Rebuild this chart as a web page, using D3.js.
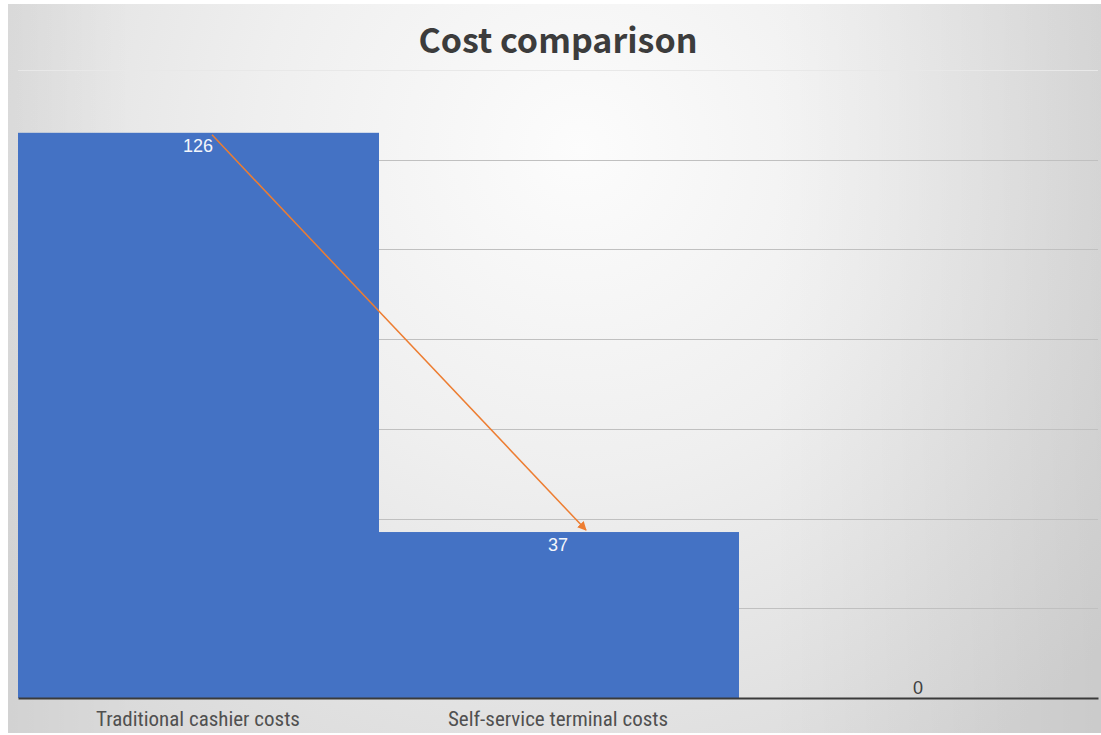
<!DOCTYPE html>
<html>
<head>
<meta charset="utf-8">
<script src="https://cdn.jsdelivr.net/npm/d3@7/dist/d3.min.js"></script>
<style>
  html, body { margin: 0; padding: 0; background: #fff; }
  svg { display: block; }
</style>
</head>
<body>
<svg id="chart" width="1101" height="735"></svg>
<script>
// Chart data
const categories = ["Traditional cashier costs", "Self-service terminal costs", ""];
const costs = [126, 37, 0];
const yTicks = [0, 20, 40, 60, 80, 100, 120, 140];
const chartTitle = "Cost comparison";

const W = 1101, H = 735;
const margin = { left: 18, right: 3, top: 70, bottom: 37 };
const svg = d3.select("#chart");
const defs = svg.append("defs");

// Soft grey backdrop, brightest near the top centre
const bg = defs.append("radialGradient")
  .attr("id", "bgGrad")
  .attr("gradientUnits", "userSpaceOnUse")
  .attr("cx", 580).attr("cy", 150).attr("r", 720);
bg.append("stop").attr("offset", "0%").attr("stop-color", "#fcfcfc");
bg.append("stop").attr("offset", "45%").attr("stop-color", "#efefef");
bg.append("stop").attr("offset", "100%").attr("stop-color", "#dadada");

const shade = defs.append("linearGradient")
  .attr("id", "edgeShade")
  .attr("gradientUnits", "userSpaceOnUse")
  .attr("x1", 0).attr("x2", W).attr("y1", 0).attr("y2", 0);
shade.append("stop").attr("offset", "0%").attr("stop-color", "#000").attr("stop-opacity", 0.04);
shade.append("stop").attr("offset", "12%").attr("stop-color", "#000").attr("stop-opacity", 0);
shade.append("stop").attr("offset", "70%").attr("stop-color", "#000").attr("stop-opacity", 0);
shade.append("stop").attr("offset", "100%").attr("stop-color", "#000").attr("stop-opacity", 0.07);

svg.append("rect").attr("width", W).attr("height", H).attr("fill", "#ffffff");
svg.append("rect")
  .attr("x", 8).attr("y", 4).attr("width", W - 8).attr("height", H - 6)
  .attr("fill", "url(#bgGrad)");
svg.append("rect")
  .attr("x", 8).attr("y", 4).attr("width", W - 8).attr("height", H - 6)
  .attr("fill", "url(#edgeShade)");

const x = d3.scaleBand()
  .domain(d3.range(categories.length))
  .range([margin.left, W - margin.right])
  .padding(0);

const y = d3.scaleLinear()
  .domain([0, 140])
  .range([H - margin.bottom, margin.top]);

// Horizontal gridlines
svg.append("g")
  .selectAll("line")
  .data(yTicks.filter(t => t > 0))
  .join("line")
  .attr("x1", margin.left)
  .attr("x2", W - margin.right)
  .attr("y1", d => Math.round(y(d)) + 0.5)
  .attr("y2", d => Math.round(y(d)) + 0.5)
  .attr("stroke", d => d === 140 ? "#e8e8e8" : "#c0c0c0")
  .attr("stroke-width", 1);

// Bars
svg.append("g")
  .selectAll("rect")
  .data(costs)
  .join("rect")
  .attr("x", (d, i) => x(i))
  .attr("width", x.bandwidth() + 1)
  .attr("y", d => y(d))
  .attr("height", d => y(0) - y(d))
  .attr("fill", "#4472c4");

// Baseline axis with category names
const xAxis = d3.axisBottom(x).tickSize(0).tickFormat(i => categories[i]);
const axisG = svg.append("g")
  .attr("transform", `translate(0,${y(0)})`)
  .call(xAxis);
axisG.select(".domain").attr("stroke", "#3a3a3a").attr("stroke-width", 2);
axisG.selectAll("text")
  .attr("dy", "0.2em")
  .attr("y", 24)
  .attr("fill", "#505050")
  .style("font-family", "'Liberation Sans Narrow', 'Roboto Condensed', 'Noto Sans', sans-serif")
  .style("font-size", "21px");

// Value labels
svg.append("g")
  .selectAll("text")
  .data(costs)
  .join("text")
  .attr("x", (d, i) => x(i) + x.bandwidth() / 2)
  .attr("y", d => d > 0 ? y(d) + 19 : y(d) - 4)
  .attr("text-anchor", "middle")
  .attr("fill", d => d > 0 ? "#f4f6fb" : "#404040")
  .style("font-family", "'Liberation Sans', 'Noto Sans', sans-serif")
  .style("font-size", "18px")
  .text(d => d);

// Arrow from the first bar's value down to the second bar's value
const marker = defs.append("marker")
  .attr("id", "arrowHead")
  .attr("viewBox", "0 0 10 10")
  .attr("refX", 9).attr("refY", 5)
  .attr("markerWidth", 6).attr("markerHeight", 6)
  .attr("markerUnits", "strokeWidth")
  .attr("orient", "auto");
marker.append("path").attr("d", "M0,0 L10,5 L0,10 Z").attr("fill", "#ed7d31");

svg.append("line")
  .attr("x1", x(0) + x.bandwidth() / 2 + 14)
  .attr("y1", y(costs[0]) + 2)
  .attr("x2", x(1) + x.bandwidth() / 2 + 28)
  .attr("y2", y(costs[1]) - 2)
  .attr("stroke", "#ed7d31")
  .attr("stroke-width", 1.5)
  .attr("marker-end", "url(#arrowHead)");

// Title
svg.append("text")
  .attr("x", 558)
  .attr("y", 53)
  .attr("text-anchor", "middle")
  .attr("fill", "#3c3c3c")
  .style("font-family", "'Noto Sans CJK SC', 'Noto Sans', sans-serif")
  .style("font-weight", "bold")
  .style("font-size", "34px")
  .text(chartTitle);
</script>
</body>
</html>
